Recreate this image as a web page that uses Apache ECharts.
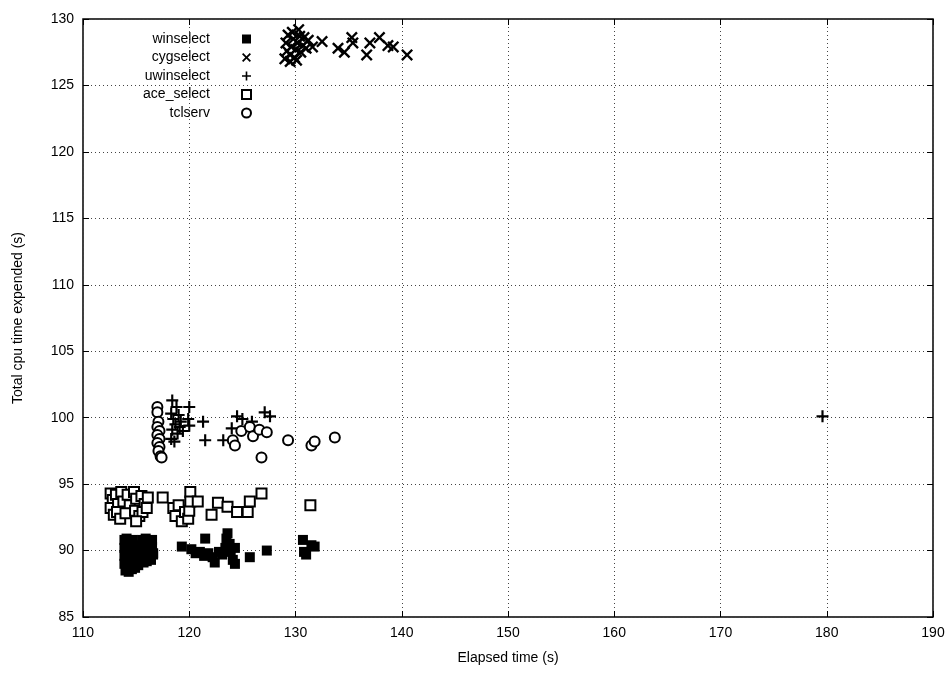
<!DOCTYPE html>
<html>
<head>
<meta charset="utf-8">
<script src="https://cdn.jsdelivr.net/npm/echarts@6/dist/echarts.min.js"></script>
<style>
  html, body { margin: 0; padding: 0; background: #fff; }
  #chart { width: 950px; height: 673px; }
</style>
</head>
<body>
<div id="chart"></div>
<script>
// values: [elapsed, cpu]
var winselect = [
  [113.9, 90.8], [114.1, 90.9], [114.4, 90.7], [114.7, 90.8], [113.9, 90.2], [114.2, 90.3], [114.5, 90.1], [114.8, 90.4],
  [113.9, 89.6], [114.2, 89.7], [114.5, 89.5], [114.8, 89.8], [113.9, 89.0], [114.2, 89.1], [114.5, 88.9], [114.8, 89.2],
  [114.0, 88.5], [114.3, 88.4], [114.6, 88.6], [114.9, 88.7],
  [115.1, 90.3], [115.3, 89.9], [115.1, 89.4], [115.4, 89.3], [115.2, 88.9],
  [115.6, 90.8], [115.9, 90.9], [116.2, 90.7], [116.5, 90.8], [115.6, 90.2], [115.9, 90.3], [116.2, 90.1], [116.5, 90.3],
  [115.7, 89.6], [116.0, 89.7], [116.3, 89.6], [116.6, 89.8], [115.7, 89.1], [116.0, 89.2], [116.4, 89.3], [116.6, 89.7],
  [119.3, 90.3], [121.5, 90.9], [120.2, 90.1], [120.6, 89.8], [121.0, 89.9], [121.4, 89.6], [121.8, 89.8], [122.2, 89.5],
  [122.4, 89.1], [122.8, 89.9], [123.1, 89.7], [123.4, 90.2], [123.5, 90.9], [123.6, 91.3], [123.8, 90.5], [123.9, 89.9],
  [124.1, 89.3], [124.3, 90.2], [124.3, 89.0], [125.7, 89.5], [127.3, 90.0],
  [130.7, 90.8], [130.8, 89.9], [131.0, 89.7], [131.5, 90.4], [131.8, 90.3]
];
var cygselect = [
  [129.0, 127.0], [129.2, 127.6], [129.1, 128.2], [129.3, 128.8], [129.5, 127.3], [129.6, 127.9], [129.8, 128.5],
  [129.5, 126.8], [129.9, 127.1], [130.0, 127.7], [130.2, 128.2], [130.4, 128.7], [130.1, 126.9], [130.5, 127.5],
  [130.7, 128.0], [130.8, 128.6], [131.0, 127.8], [129.7, 129.0], [130.3, 129.2], [131.2, 128.4],
  [131.6, 127.9], [132.5, 128.3], [134.0, 127.8], [134.6, 127.5], [135.3, 128.6], [135.4, 128.2], [136.7, 127.3],
  [137.0, 128.2], [137.9, 128.6], [138.7, 128.0], [139.2, 127.9], [140.5, 127.3]
];
var uwinselect = [
  [118.4, 101.3], [118.8, 100.8], [118.3, 100.3], [118.5, 99.9], [118.7, 99.5], [118.4, 99.1], [118.9, 98.8], [118.3, 98.4],
  [119.0, 100.2], [119.2, 99.7], [118.6, 98.2], [119.1, 99.3], [120.0, 100.8], [119.9, 99.9], [120.0, 99.4], [119.4, 99.0],
  [121.3, 99.7], [121.5, 98.3], [123.2, 98.3], [124.5, 100.1], [125.0, 99.9], [127.1, 100.4], [127.6, 100.1],
  [124.0, 99.2], [125.9, 99.7], [179.6, 100.1]
];
var aceSelect = [
  [112.6, 94.3], [112.8, 93.8], [112.6, 93.2], [112.9, 92.7], [113.1, 94.2], [113.3, 93.5], [113.2, 92.9], [113.6, 94.4],
  [113.8, 93.7], [113.5, 92.4], [114.2, 94.2], [114.4, 93.4], [114.0, 92.8], [114.8, 94.4], [115.0, 93.9], [114.9, 93.0],
  [115.3, 92.6], [115.5, 94.1], [115.8, 93.5], [115.6, 92.9], [116.1, 94.0], [116.0, 93.2], [115.0, 92.2],
  [117.5, 94.0], [118.5, 93.2], [118.7, 92.6], [119.0, 93.4], [119.3, 92.2], [119.6, 92.9], [119.9, 92.4], [120.0, 93.0],
  [120.1, 94.4], [120.1, 93.7], [120.8, 93.7], [122.1, 92.7], [122.7, 93.6], [123.6, 93.3], [124.5, 92.9], [125.5, 92.9],
  [125.7, 93.7], [126.8, 94.3], [131.4, 93.4]
];
var tclserv = [
  [117.0, 100.8], [117.0, 100.4], [117.1, 99.7], [117.0, 99.3], [117.2, 99.0], [117.0, 98.7], [117.2, 98.4], [117.0, 98.1],
  [117.2, 97.8], [117.1, 97.5], [117.3, 97.1], [117.4, 97.0],
  [124.1, 98.3], [124.3, 97.9], [124.9, 99.0], [125.7, 99.3], [126.0, 98.6], [126.6, 99.1], [127.3, 98.9], [126.8, 97.0],
  [129.3, 98.3], [131.5, 97.9], [131.8, 98.2], [133.7, 98.5]
];
var xTicks = { min: 110, max: 190, step: 10 };
var yTicks = { min: 85, max: 130, step: 5 };

var plusPath = 'path://M4.1,0H5.9V4.1H10V5.9H5.9V10H4.1V5.9H0V4.1H4.1Z';
var crossPath = 'path://M0,1.4L1.4,0L5,3.6L8.6,0L10,1.4L6.4,5L10,8.6L8.6,10L5,6.4L1.4,10L0,8.6L3.6,5Z';

var font = 'Liberation Sans, Arial, sans-serif';
var chart = echarts.init(document.getElementById('chart'));

// mirrored axes, only for the inward ticks on top and right
function sideAxis(pos, t) {
  return {
    type: 'value', position: pos, min: t.min, max: t.max, interval: t.step,
    axisLine: { show: false },
    axisTick: { show: true, inside: true, length: 6, lineStyle: { color: '#000', width: 1 } },
    axisLabel: { show: false },
    splitLine: { show: false }
  };
}

var option = {
  animation: false,
  backgroundColor: '#fff',
  grid: { left: 83, right: 17, top: 19, bottom: 56, show: true, borderColor: '#000', borderWidth: 1.5 },
  legend: {
    orient: 'vertical', left: 85, top: 27, align: 'right',
    itemWidth: 9, itemHeight: 9, itemGap: 4.5,
    textStyle: { fontFamily: font, fontSize: 14, color: '#000', width: 120, align: 'right', padding: [0, 27, 0, 0], lineHeight: 14 },
    data: ['winselect', 'cygselect', 'uwinselect', 'ace_select', 'tclserv']
  },
  xAxis: [{
    type: 'value', min: xTicks.min, max: xTicks.max, interval: xTicks.step,
    name: 'Elapsed time (s)', nameLocation: 'middle', nameGap: 34,
    nameTextStyle: { fontFamily: font, fontSize: 14, color: '#000' },
    axisLine: { show: false },
    axisTick: { show: true, inside: true, length: 6, lineStyle: { color: '#000' } },
    axisLabel: { fontFamily: font, fontSize: 14, color: '#000', margin: 9 },
    splitLine: { show: true, lineStyle: { color: '#444', type: [1, 3], width: 1 } }
  }, sideAxis('top', xTicks)],
  yAxis: [{
    type: 'value', min: yTicks.min, max: yTicks.max, interval: yTicks.step,
    name: 'Total cpu time expended (s)', nameLocation: 'middle', nameGap: 58,
    nameTextStyle: { fontFamily: font, fontSize: 14, color: '#000' },
    axisLine: { show: false },
    axisTick: { show: true, inside: true, length: 6, lineStyle: { color: '#000' } },
    axisLabel: { fontFamily: font, fontSize: 14, color: '#000', margin: 9 },
    splitLine: { show: true, lineStyle: { color: '#444', type: [1, 3], width: 1 } }
  }, sideAxis('right', yTicks)],
  series: [
    { name: 'winselect', type: 'scatter', data: winselect, symbol: 'rect', symbolSize: 10,
      itemStyle: { color: '#000', opacity: 1 } },
    { name: 'cygselect', type: 'scatter', data: cygselect, symbol: crossPath, symbolSize: 12,
      itemStyle: { color: '#000', opacity: 1 } },
    { name: 'uwinselect', type: 'scatter', data: uwinselect, symbol: plusPath, symbolSize: 12,
      itemStyle: { color: '#000', opacity: 1 } },
    { name: 'ace_select', type: 'scatter', data: aceSelect, symbol: 'rect', symbolSize: 10,
      itemStyle: { color: '#fff', borderColor: '#000', borderWidth: 2, opacity: 1 } },
    { name: 'tclserv', type: 'scatter', data: tclserv, symbol: 'circle', symbolSize: 10,
      itemStyle: { color: '#fff', borderColor: '#000', borderWidth: 2, opacity: 1 } }
  ]
};
chart.setOption(option);
</script>
</body>
</html>
